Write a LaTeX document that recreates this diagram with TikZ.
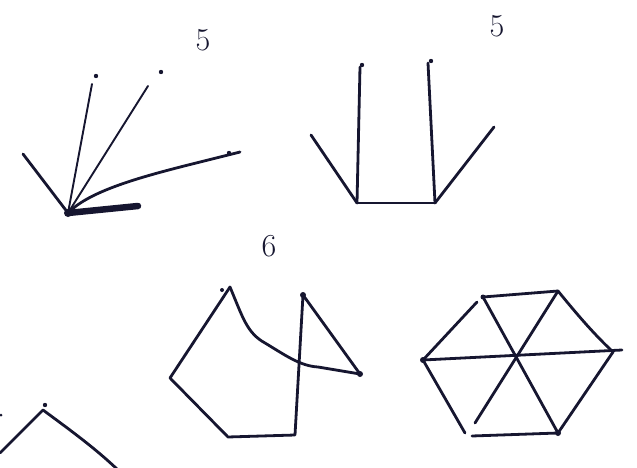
\documentclass[tikz,border=0pt]{standalone}
\definecolor{ink}{RGB}{22,22,48}
\tikzset{
  pen/.style={draw=ink, line width=2.8pt, line cap=round, line join=round},
  heavy/.style={draw=ink, line width=6.5pt, line cap=round},
  inkdot/.style={fill=ink},
  digit/.style={text=ink, font=\fontsize{32}{32}\selectfont, inner sep=0pt}
}
\begin{document}
\begin{tikzpicture}[x=1pt,y=-1pt]
\useasboundingbox (0,0) rectangle (637,468);
\clip (0,0) rectangle (637,468);
% ---------- fan (top left) ----------
\coordinate (fc) at (68,213);
\coordinate (fa) at (23,154);
\coordinate (fb) at (92,84);
\coordinate (fd) at (148,86);
\coordinate (fe) at (240,152);
\coordinate (ff) at (138,206);
\draw[pen] (fc) -- (fa);
\draw[pen, line width=1.9pt] (fc) -- (fb);
\draw[pen, line width=1.9pt] (fc) -- (fd);
\draw[pen] (fc) .. controls (95,185) and (170,170) .. (fe);
\draw[heavy] (fc) -- (ff);
\fill[inkdot] (96,76) circle (2.2pt);
\fill[inkdot] (161,72) circle (2.2pt);
\fill[inkdot] (229,153) circle (2.2pt);
\fill[inkdot] (fc) circle (4pt);
\node[digit] (l1) at (203,40) {5};
% ---------- graph (top right) ----------
\coordinate (gl) at (357,203);
\coordinate (gr) at (435,203);
\coordinate (glt) at (360,67);
\coordinate (grt) at (428,63);
\coordinate (gld) at (311,135);
\coordinate (grd) at (494,127);
\draw[pen] (gl) -- (glt);
\draw[pen] (gr) -- (grt);
\draw[pen] (gl) -- (gld);
\draw[pen] (gr) -- (grd);
\draw[pen] (gl) -- (gr);
\fill[inkdot] (362,65) circle (2.2pt);
\fill[inkdot] (431,61) circle (2.2pt);
\node[digit] (l2) at (497,26) {5};
% ---------- pentagon + triangle (middle) ----------
\coordinate (pt) at (230,287);
\coordinate (pl) at (170,378);
\coordinate (pbl) at (228,437);
\coordinate (pbr) at (295,435);
\coordinate (ptt) at (303,295);
\coordinate (ptr) at (360,374);
\draw[pen] (pt) -- (pl) -- (pbl) -- (pbr) -- (ptt) -- (ptr);
\draw[pen] (pt) .. controls (243,318) and (247,333) .. (265,343)
  .. controls (285,355) and (300,366) .. (318,367) -- (ptr);
\fill[inkdot] (222,290) circle (2pt);
\fill[inkdot] (ptt) circle (3pt);
\fill[inkdot] (ptr) circle (3pt);
\node[digit] (l3) at (269,246) {6};
% ---------- hexagon (right) ----------
\coordinate (h1) at (483,297);
\coordinate (h2) at (558,291);
\coordinate (h3) at (613,352);
\coordinate (h4) at (558,433);
\coordinate (h5) at (472,436);
\coordinate (h6) at (423,360);
\coordinate (hc) at (513,357);
\coordinate (h3x) at (622,350);
\coordinate (h5x) at (475,423);
\coordinate (h5y) at (465,433);
\coordinate (h1x) at (477,302);
\draw[pen] (h1) -- (h2);
\draw[pen] (h2) .. controls (580,318) and (595,335) .. (h3);
\draw[pen] (h3) -- (h4) -- (h5);
\draw[pen] (h5y) -- (h6) -- (h1x);
\draw[pen] (h6) -- (h3x);
\draw[pen] (h1) -- (h4);
\draw[pen] (h2) -- (h5x);
\fill[inkdot] (h6) circle (3pt);
\fill[inkdot] (h1) circle (2.5pt);
\fill[inkdot] (h4) circle (3pt);
% ---------- bottom-left peak ----------
\coordinate (k1) at (0,453);
\coordinate (kp) at (43,410);
\coordinate (k2) at (118,470);
\draw[pen] (k1) -- (kp) .. controls (70,430) and (95,448) .. (k2);
\fill[inkdot] (45,405) circle (2.2pt);
\fill[inkdot] (1,415) circle (1.5pt);
\end{tikzpicture}
\end{document}
